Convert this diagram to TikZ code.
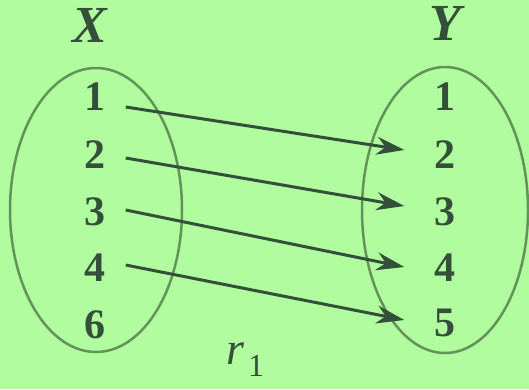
\documentclass[tikz,border=0pt]{standalone}
\usepackage{fontspec}
\setmainfont{Liberation Serif}
\usetikzlibrary{arrows.meta}
\definecolor{bggreen}{HTML}{B0FC9E}
\definecolor{inkgreen}{HTML}{34503A}
\definecolor{setgreen}{HTML}{64935A}

\begin{document}
\begin{tikzpicture}[x=1pt, y=-1pt,
  elem/.style={inner sep=0pt, text=inkgreen, font=\fontsize{42}{48}\selectfont\bfseries},
  setname/.style={inner sep=0pt, text=inkgreen, font=\fontsize{52}{60}\selectfont\bfseries\itshape},
  setline/.style={draw=setgreen, line width=2.5pt},
  arrow/.style={-{Stealth[length=28pt,width=18pt]}, line width=3pt, draw=inkgreen},
]
  \fill[bggreen] (0,0) rectangle (529,389);
  \useasboundingbox (0,0) rectangle (529,389);

  % the two sets
  \draw[setline] (96,210) ellipse [x radius=86, y radius=142];
  \draw[setline] (445,210) ellipse [x radius=83, y radius=143];
  \node[setname] (X) at (90,25) {X};
  \node[setname] (Y) at (445,23) {Y};

  \foreach \n/\y in {1/97,2/155,3/212,4/268,6/325}
    \node[elem] (x\n) at (95,\y) {\n};
  \foreach \n/\y in {1/97,2/155,3/212,4/268,5/323}
    \node[elem] (y\n) at (445,\y) {\n};

  % the relation
  \foreach \a/\b/\ys/\ye in {1/2/-10/5, 2/3/-3/6, 3/4/2/1, 4/5/3/3}
    \draw[arrow] ([xshift=20pt,yshift=\ys pt]x\a.east) -- ([xshift=-30pt,yshift=\ye pt]y\b.west);

  \node[anchor=base west, inner sep=0pt, text=inkgreen, font=\fontsize{46}{50}\selectfont] (r) at (226,364)
    {\textit{r}\hspace{4pt}\raisebox{-12pt}{\fontsize{32}{36}\selectfont 1}};
\end{tikzpicture}
\end{document}
